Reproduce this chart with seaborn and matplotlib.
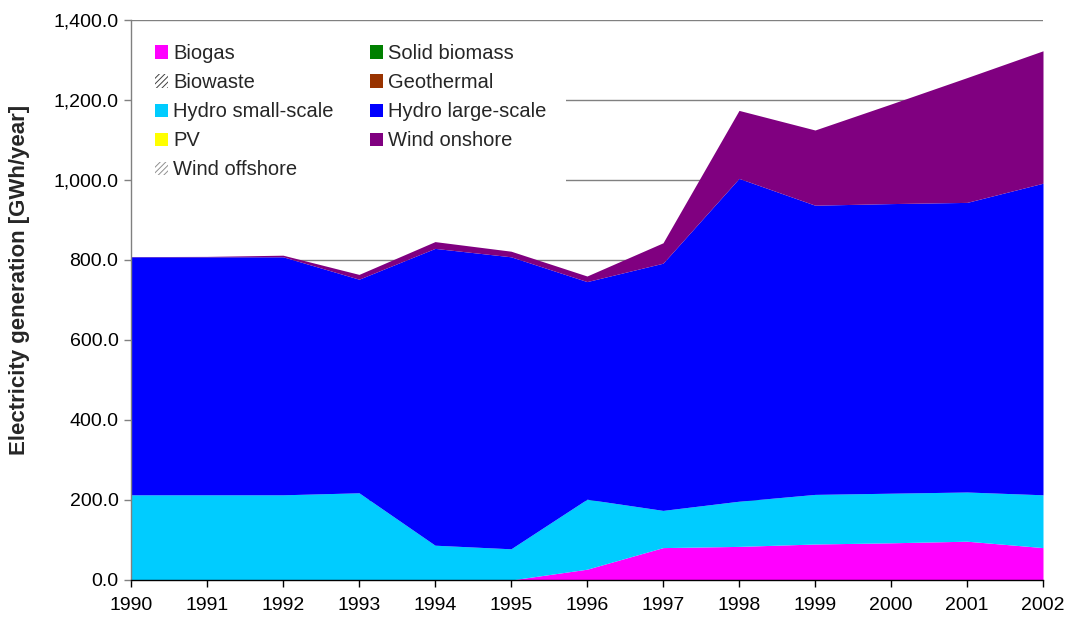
import matplotlib
matplotlib.use("Agg")
import matplotlib.pyplot as plt
from matplotlib.patches import Patch, Rectangle
from matplotlib.ticker import FuncFormatter, MultipleLocator
import seaborn as sns
import numpy as np

years = [1990, 1991, 1992, 1993, 1994, 1995, 1996, 1997, 1998, 1999, 2000, 2001, 2002]

biogas        = [0, 0, 0, 0, 0, 0, 27, 81, 84, 90, 93, 97, 81]
solid_biomass = [0] * 13
biowaste      = [0] * 13
geothermal    = [0] * 13
hydro_small   = [213, 213, 213, 218, 87, 78, 175, 93, 113, 124, 124, 123, 132]
hydro_large   = [595, 595, 595, 534, 742, 730, 544, 618, 807, 723, 724, 724, 779]
pv            = [0] * 13
wind_onshore  = [0.5, 1, 4, 12, 17, 14, 14, 51, 170, 188, 249, 312, 331]
wind_offshore = [0] * 13

series_names = ["Biogas", "Solid biomass", "Biowaste", "Geothermal",
                "Hydro small-scale", "Hydro large-scale", "PV",
                "Wind onshore", "Wind offshore"]
series_values = [biogas, solid_biomass, biowaste, geothermal,
                 hydro_small, hydro_large, pv, wind_onshore, wind_offshore]
series_colors = ["#FF00FF", "#008000", "#404040", "#993300",
                 "#00CCFF", "#0000FF", "#FFFF00", "#800080", "#909090"]
series_hatch = [None, None, "//////", None, None, None, None, None, "//////"]

sns.set_theme(style="white")
plt.rcParams["font.family"] = ["Liberation Sans", "DejaVu Sans"]
plt.rcParams["hatch.linewidth"] = 0.7

fig = plt.figure(figsize=(10.68, 6.21), dpi=100)
ax = fig.add_axes([131 / 1068, 41 / 621, 912 / 1068, 560 / 621])

ax.stackplot(years, *series_values, colors=series_colors, linewidth=0, zorder=2)

ax.set_xlim(1990, 2002)
ax.set_ylim(0, 1400)
ax.yaxis.set_major_locator(MultipleLocator(200))
ax.set_xticks(years)
ax.set_xticklabels([str(y) for y in years])
ax.yaxis.set_major_formatter(FuncFormatter(lambda v, p: f"{v:,.1f}"))

ax.grid(axis="y", color="#808080", linewidth=1, zorder=1)
ax.grid(axis="x", visible=False)
ax.set_axisbelow(True)

for s in ["top", "right"]:
    ax.spines[s].set_visible(False)
ax.spines["left"].set_color("#808080")
ax.spines["bottom"].set_color("#000000")
for s in ["left", "bottom"]:
    ax.spines[s].set_linewidth(1)
    ax.spines[s].set_zorder(6)

ax.tick_params(axis="both", which="major", direction="out", length=5,
               width=1, labelsize=14, colors="#000000", bottom=True, left=True)
ax.tick_params(axis="y", color="#808080", labelcolor="#000000", pad=4)
ax.tick_params(axis="x", pad=7)

fig.text(20 / 1068, 1 - 280 / 621, "Electricity generation [GWh/year]",
         rotation=90, ha="center", va="center", fontsize=16, fontweight="bold")

# white legend background area (covers gridlines behind legend, below the top line)
y0 = (580 - 185) / 560
ax.add_patch(Rectangle((0.0, y0), (566 - 131) / 912, (1 - 1.5 / 560) - y0,
                       transform=ax.transAxes, facecolor="white", edgecolor="none",
                       zorder=3, clip_on=False))

handles = []
for name, col, h in zip(series_names, series_colors, series_hatch):
    if h:
        handles.append(Patch(facecolor="white", edgecolor=col,
                             hatch=h, linewidth=0, label=name))
    else:
        handles.append(Patch(facecolor=col, edgecolor="none", label=name))

order = [0, 2, 4, 6, 8, 1, 3, 5, 7]
leg = ax.legend([handles[i] for i in order], [series_names[i] for i in order],
                loc="upper left", bbox_to_anchor=(0.0, 1.0), ncol=2,
                fontsize=14.5, frameon=False, handlelength=0.65, handleheight=0.65,
                handletextpad=0.25, columnspacing=1.8, labelspacing=0.5,
                borderpad=1.2, borderaxespad=0.0)
leg.set_zorder(5)

fig.savefig("out.png", dpi=100)
